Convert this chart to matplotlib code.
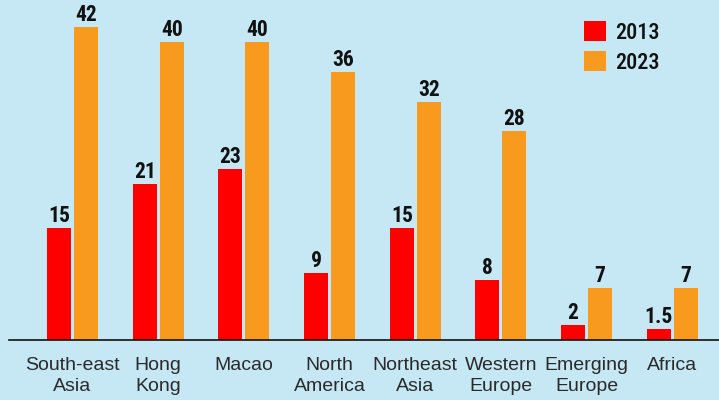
import matplotlib
matplotlib.use("Agg")
import matplotlib.pyplot as plt
import numpy as np

regions = ["South-east\nAsia", "Hong\nKong", "Macao", "North\nAmerica",
           "Northeast\nAsia", "Western\nEurope", "Emerging\nEurope", "Africa"]
values_2013 = [15, 21, 23, 9, 15, 8, 2, 1.5]
values_2023 = [42, 40, 40, 36, 32, 28, 7, 7]
labels_2013 = ["15", "21", "23", "9", "15", "8", "2", "1.5"]
labels_2023 = ["42", "40", "40", "36", "32", "28", "7", "7"]
series_names = ["2013", "2023"]

BG = "#C5E8F4"
RED = "#FF0000"
ORANGE = "#F79A1E"
NARROW = ["Roboto Condensed", "DejaVu Sans"]

fig = plt.figure(figsize=(7.19, 4.0), dpi=100)
fig.patch.set_facecolor(BG)
ax = fig.add_axes([9/719, 60/400, 710/719, 340/400])
ax.set_facecolor(BG)

x = np.arange(len(regions))
w = 0.28
off = 0.1575
b1 = ax.bar(x - off, values_2013, w, color=RED, label=series_names[0])
b2 = ax.bar(x + off, values_2023, w, color=ORANGE, label=series_names[1])

for bars, labs in ((b1, labels_2013), (b2, labels_2023)):
    for r, t in zip(bars, labs):
        ax.annotate(t, (r.get_x() + r.get_width()/2, r.get_height()),
                    xytext=(0, 4.3), textcoords="offset points",
                    ha="center", va="baseline", fontsize=15.5,
                    fontweight="bold", family=NARROW, color="#111111")

ax.set_xlim(-0.741, 7.544)
ax.set_ylim(0, 45.64)
ax.set_yticks([])
ax.set_xticks(x)
ax.set_xticklabels(regions, fontsize=14, family=["Liberation Sans", "DejaVu Sans"],
                   color="#2a2a2a", linespacing=1.32)
ax.tick_params(axis="x", length=0, pad=12)
for s in ["top", "right", "left"]:
    ax.spines[s].set_visible(False)
ax.spines["bottom"].set_linewidth(1.2)
ax.spines["bottom"].set_color("#111111")

leg = ax.legend(loc="upper left", bbox_to_anchor=(584/719, 1 - 21/400),
                bbox_transform=fig.transFigure, frameon=False, borderpad=0,
                borderaxespad=0, handlelength=1.0, handleheight=1.0,
                handletextpad=0.42, labelspacing=0.35,
                prop={"family": NARROW, "size": 16, "weight": "medium"})
for t in leg.get_texts():
    t.set_color("#111111")

fig.savefig("out.png", dpi=100, facecolor=BG)
